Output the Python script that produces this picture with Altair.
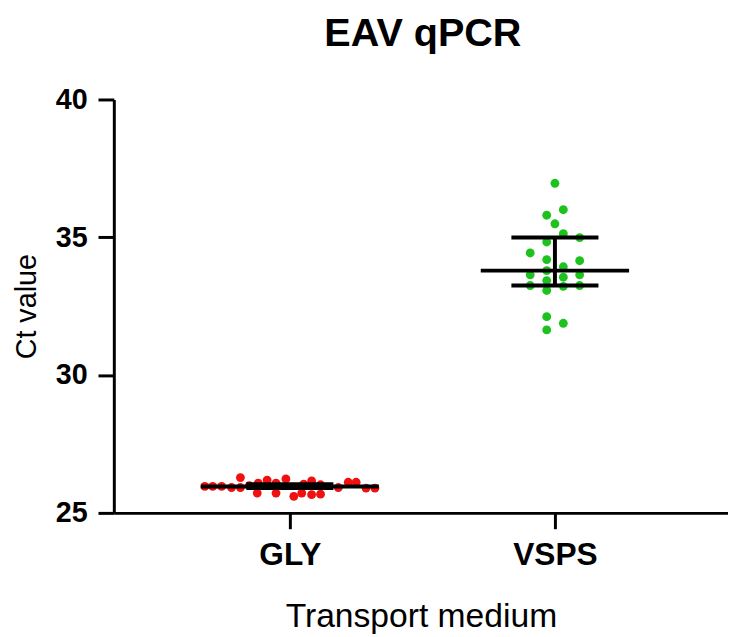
import altair as alt
import pandas as pd

# ---- data ----
categories = ["GLY", "VSPS"]

gly_values = [25.96, 25.96, 25.96, 25.92, 26.28, 25.92, 25.99, 25.72, 26.08, 26.19,
              25.72, 26.08, 26.23, 25.60, 25.72, 26.04, 26.16, 25.66, 25.68, 26.02,
              25.92, 26.11, 26.11, 25.90, 25.90]
gly_jitter = [-86, -78, -69, -59, -50, -50, -41, -33, -32, -23,
              -14, -14, -4, 4, 12, 14, 22, 22, 31, 31,
              49, 59, 67, 77, 86]

vsps_values = [36.96, 36.00, 35.80, 35.49, 35.13, 34.99, 34.83, 34.43, 34.19, 34.15,
               33.93, 33.79, 33.64, 33.55, 33.64, 33.43, 33.25, 33.22, 33.25, 33.07,
               32.12, 31.88, 31.64]
vsps_jitter = [0, 8.5, -8.3, 0, 8.5, 25, -8.3, -25, -8.3, 25,
               8.5, -8.3, -25, 8.5, 25, -8.3, -25, 8.5, 25, -8.3,
               -8.3, 8.5, -8.3]

medians = [25.96, 33.79]
q1s = [25.90, 33.25]
q3s = [26.04, 34.99]
median_half = [90, 75]   # half length of the median line (px)
cap_half = [44, 44]      # half length of the error caps (px)

colors = ["#f01010", "#1ec21e"]

# ---- layout constants ----
W, H = 621, 418
STEP = 268.0                       # px between the two categories
X0 = -178 / STEP                   # left end of x domain
X1 = (W - 178) / STEP              # right end of x domain
FONT = "Liberation Sans"

rows = []
for v, j in zip(gly_values, gly_jitter):
    rows.append({"group": categories[0], "value": v, "x": 0 + j / STEP})
for v, j in zip(vsps_values, vsps_jitter):
    rows.append({"group": categories[1], "value": v, "x": 1 + j / STEP})
pts = pd.DataFrame(rows)

summ = pd.DataFrame({
    "group": categories,
    "idx": [0, 1],
    "median": medians,
    "q1": q1s,
    "q3": q3s,
})
summ["m1"] = summ["idx"] - pd.Series(median_half) / STEP
summ["m2"] = summ["idx"] + pd.Series(median_half) / STEP
summ["c1"] = summ["idx"] - pd.Series(cap_half) / STEP
summ["c2"] = summ["idx"] + pd.Series(cap_half) / STEP

xscale = alt.Scale(domain=[X0, X1], nice=False, zero=False)
yscale = alt.Scale(domain=[25, 40], nice=False, zero=False)

label_expr = " : ".join(
    [f"datum.value == {i} ? '{c}'" for i, c in enumerate(categories)]
) + " : ''"

xaxis = alt.Axis(
    values=[0, 1], labelExpr=label_expr, title="Transport medium",
    grid=False, domainColor="black", domainWidth=3, tickColor="black",
    tickWidth=3, tickSize=16, labelFont=FONT, labelFontSize=32,
    labelFontWeight="bold", labelColor="black", labelPadding=11,
    titleFont=FONT, titleFontSize=34, titleFontWeight="normal",
    titleColor="black", titlePadding=30,
)
yaxis = alt.Axis(
    values=[25, 30, 35, 40], title="Ct value", grid=False,
    domainColor="black", domainWidth=3, tickColor="black", tickWidth=3,
    tickSize=16, labelFont=FONT, labelFontSize=29, labelFontWeight="bold",
    labelColor="black", labelPadding=11, titleFont=FONT, titleFontSize=29,
    titleFontWeight="normal", titleColor="black", titlePadding=14,
)

points = alt.Chart(pts).mark_circle(size=80, opacity=1).encode(
    x=alt.X("x:Q", scale=xscale, axis=xaxis, title="Transport medium"),
    y=alt.Y("value:Q", scale=yscale, axis=yaxis, title="Ct value"),
    color=alt.Color("group:N", scale=alt.Scale(domain=categories, range=colors),
                    legend=None),
)

base = alt.Chart(summ)
median_rule = base.mark_rule(color="black", strokeWidth=4).encode(
    x=alt.X("m1:Q", scale=xscale, axis=xaxis, title="Transport medium"), x2="m2:Q",
    y=alt.Y("median:Q", scale=yscale, axis=yaxis, title="Ct value"),
)
cap_lo = base.mark_rule(color="black", strokeWidth=4).encode(
    x=alt.X("c1:Q", scale=xscale, axis=xaxis, title="Transport medium"), x2="c2:Q",
    y=alt.Y("q1:Q", scale=yscale, axis=yaxis, title="Ct value"),
)
cap_hi = base.mark_rule(color="black", strokeWidth=4).encode(
    x=alt.X("c1:Q", scale=xscale, axis=xaxis, title="Transport medium"), x2="c2:Q",
    y=alt.Y("q3:Q", scale=yscale, axis=yaxis, title="Ct value"),
)
whisker = base.mark_rule(color="black", strokeWidth=4).encode(
    x=alt.X("idx:Q", scale=xscale, axis=xaxis, title="Transport medium"),
    y=alt.Y("q1:Q", scale=yscale, axis=yaxis, title="Ct value"), y2="q3:Q",
)

chart = alt.layer(points, median_rule, cap_lo, cap_hi, whisker).properties(
    width=W, height=H,
    background="white",
    title=alt.TitleParams("EAV qPCR", font=FONT, fontSize=40, fontWeight="bold",
                          color="black", anchor="middle", offset=32, dx=2),
    autosize=alt.AutoSizeParams(type="none"),
    padding={"left": 107, "top": 89, "right": 0, "bottom": 122},
).configure_view(stroke=None)

chart.save("out.html", embed_options={"renderer": "svg", "actions": False})
